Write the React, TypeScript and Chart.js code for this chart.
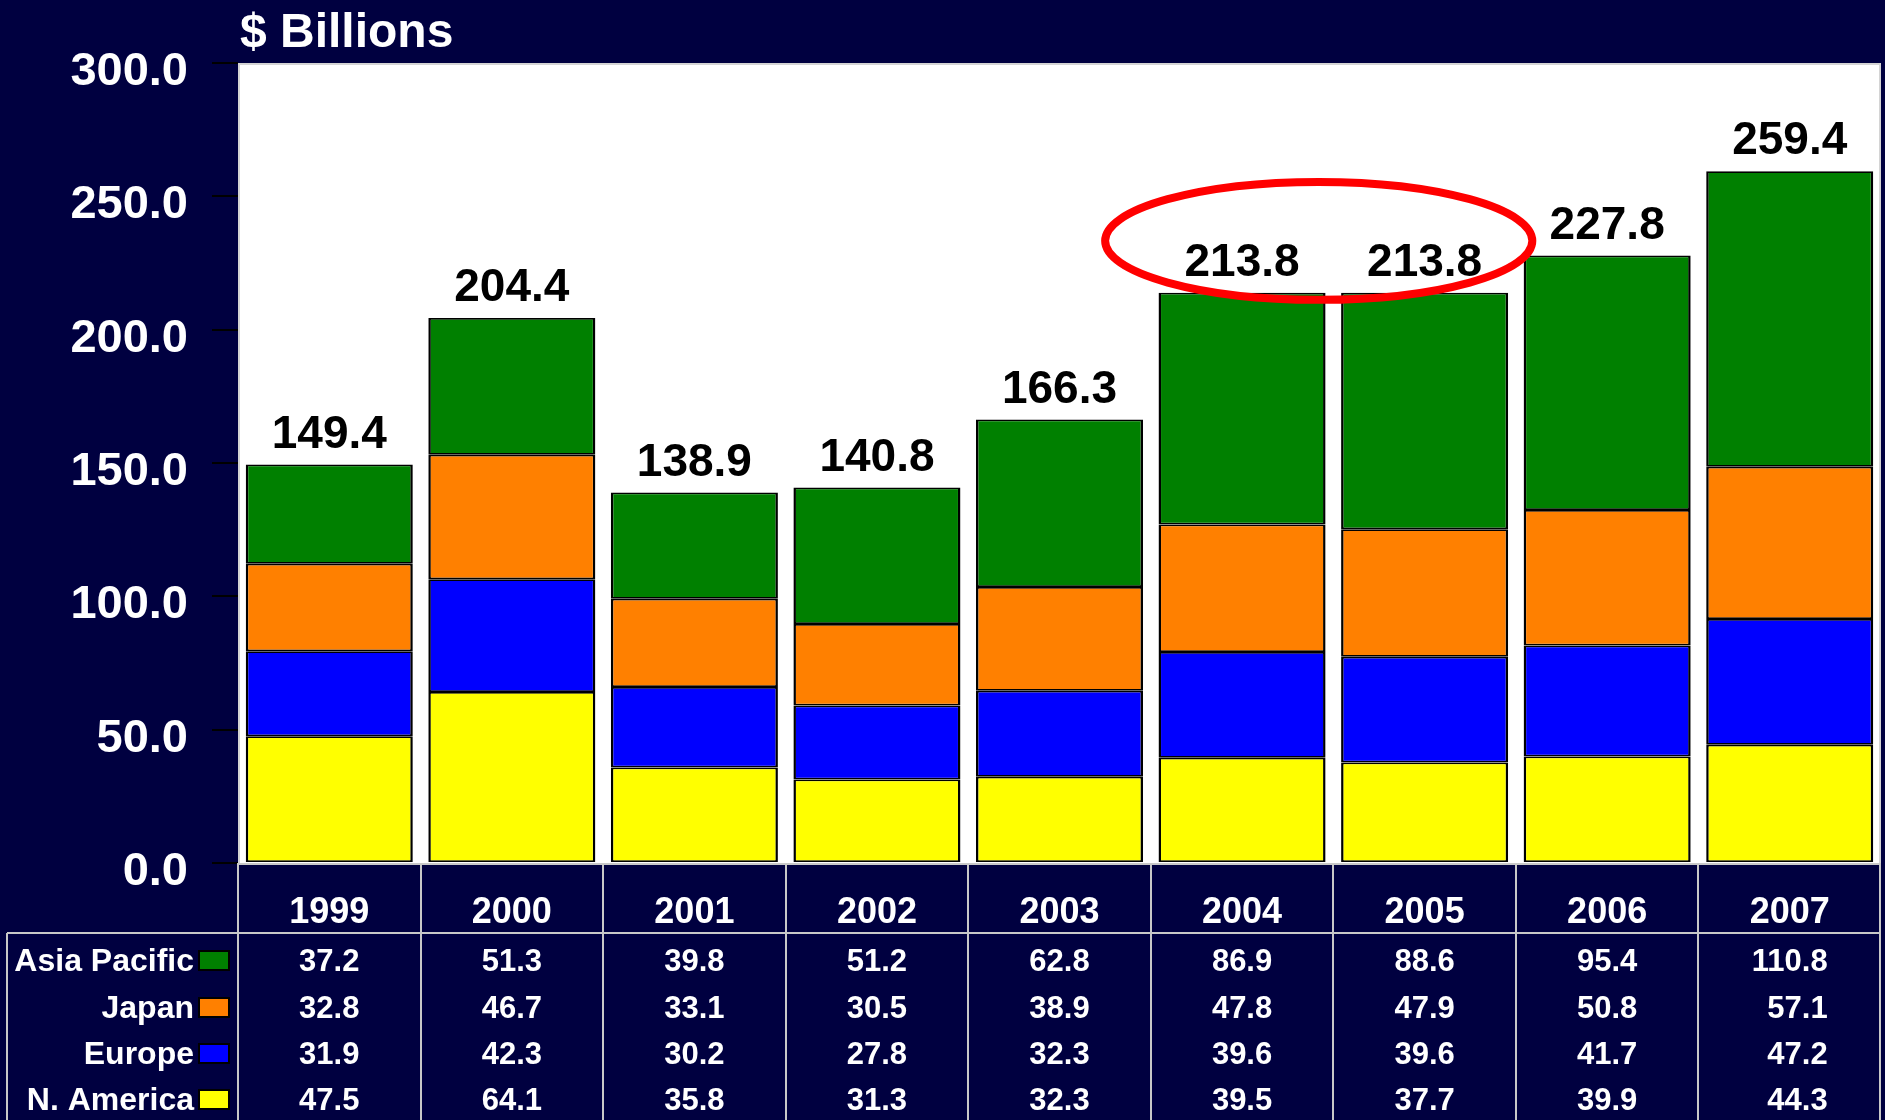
import React, { useEffect, useRef } from "react";
import { Chart, registerables } from "chart.js";

Chart.register(...registerables);

// ---------- data ----------
const years = ["1999", "2000", "2001", "2002", "2003", "2004", "2005", "2006", "2007"];
const asiaPacific = [37.2, 51.3, 39.8, 51.2, 62.8, 86.9, 88.6, 95.4, 110.8];
const japan = [32.8, 46.7, 33.1, 30.5, 38.9, 47.8, 47.9, 50.8, 57.1];
const europe = [31.9, 42.3, 30.2, 27.8, 32.3, 39.6, 39.6, 41.7, 47.2];
const nAmerica = [47.5, 64.1, 35.8, 31.3, 32.3, 39.5, 37.7, 39.9, 44.3];
const totals = [149.4, 204.4, 138.9, 140.8, 166.3, 213.8, 213.8, 227.8, 259.4];
const seriesNames = ["Asia Pacific", "Japan", "Europe", "N. America"];
const yAxisTitle = "$ Billions";

// ---------- styles ----------
const W = 1885;
const H = 1120;
const NAVY = "#000040";
const FONT = "'Liberation Sans', Arial, Helvetica, sans-serif";
const COLORS: Record<string, string> = {
  "Asia Pacific": "#008000",
  Japan: "#FF8000",
  Europe: "#0000FF",
  "N. America": "#FFFF00",
};
const GRID_GRAY = "#C8C8C8";

// highlight ellipse (in scale units)
const HL_CENTER_INDEX = 5.42;
const HL_CENTER_VALUE = 233.3;
const HL_RADIUS_INDEX = 1.17;
const HL_RADIUS_VALUE = 22.1;

const seriesValues: Record<string, number[]> = {
  "Asia Pacific": asiaPacific,
  Japan: japan,
  Europe: europe,
  "N. America": nAmerica,
};

const bgPlugin = {
  id: "bgPlugin",
  beforeDraw(chart: any) {
    const { ctx, chartArea: a } = chart;
    ctx.save();
    ctx.fillStyle = NAVY;
    ctx.fillRect(0, 0, chart.width, chart.height);
    ctx.fillStyle = "#FFFFFF";
    ctx.fillRect(a.left, a.top, a.right - a.left, a.bottom - a.top);
    ctx.strokeStyle = "#D4D4D4";
    ctx.lineWidth = 2;
    ctx.strokeRect(a.left + 1, a.top + 1, a.right - a.left - 2, a.bottom - a.top);
    ctx.fillStyle = "#FFFFFF";
    ctx.font = `bold 48px ${FONT}`;
    ctx.textAlign = "left";
    ctx.textBaseline = "alphabetic";
    ctx.fillText(yAxisTitle, a.left + 2, 47);
    ctx.restore();
  },
};

const ellipsePlugin = {
  id: "ellipsePlugin",
  afterDatasetsDraw(chart: any) {
    const { ctx, scales } = chart;
    const xs = scales.x;
    const ys = scales.y;
    const cx = xs.getPixelForValue(HL_CENTER_INDEX);
    const catW = xs.getPixelForValue(1) - xs.getPixelForValue(0);
    const cy = ys.getPixelForValue(HL_CENTER_VALUE);
    const unit = ys.getPixelForValue(0) - ys.getPixelForValue(1);
    ctx.save();
    ctx.strokeStyle = "#FF0000";
    ctx.lineWidth = 8;
    ctx.beginPath();
    ctx.ellipse(cx, cy, HL_RADIUS_INDEX * catW, HL_RADIUS_VALUE * unit, 0, 0, Math.PI * 2);
    ctx.stroke();
    ctx.restore();
  },
};

const totalsPlugin = {
  id: "totalsPlugin",
  afterDatasetsDraw(chart: any) {
    const { ctx, scales } = chart;
    ctx.save();
    ctx.fillStyle = "#000000";
    ctx.font = `bold 46px ${FONT}`;
    ctx.textAlign = "center";
    ctx.textBaseline = "alphabetic";
    totals.forEach((t, i) => {
      const x = scales.x.getPixelForValue(i);
      const y = scales.y.getPixelForValue(t) - 17;
      ctx.fillText(t.toFixed(1), x, y);
    });
    ctx.restore();
  },
};

const tablePlugin = {
  id: "tablePlugin",
  afterDraw(chart: any) {
    const { ctx, chartArea: a, scales } = chart;
    const xs = scales.x;
    const n = years.length;
    const catW = (a.right - a.left) / n;
    const headerBottom = a.bottom + 70;
    const leftEdge = 7;
    ctx.save();
    ctx.strokeStyle = GRID_GRAY;
    ctx.lineWidth = 2;
    ctx.beginPath();
    for (let i = 0; i <= n; i++) {
      const x = Math.round(a.left + i * catW) + (i === n ? -1 : 0);
      ctx.moveTo(x, a.bottom);
      ctx.lineTo(x, H);
    }
    ctx.moveTo(a.left, a.bottom + 1);
    ctx.lineTo(a.right, a.bottom + 1);
    ctx.moveTo(leftEdge, headerBottom);
    ctx.lineTo(a.right, headerBottom);
    ctx.moveTo(leftEdge, headerBottom);
    ctx.lineTo(leftEdge, H);
    ctx.stroke();

    // year header
    ctx.fillStyle = "#FFFFFF";
    ctx.textBaseline = "middle";
    ctx.textAlign = "center";
    ctx.font = `bold 36px ${FONT}`;
    years.forEach((yr, i) => {
      ctx.fillText(yr, xs.getPixelForValue(i), a.bottom + 50);
    });

    // rows
    const rowCenters = [headerBottom + 28, headerBottom + 75, headerBottom + 121, headerBottom + 167];
    seriesNames.forEach((name, r) => {
      const cy = rowCenters[r];
      ctx.font = `bold 32px ${FONT}`;
      ctx.textAlign = "right";
      ctx.fillStyle = "#FFFFFF";
      ctx.fillText(name, 194, cy + 1);
      // legend box
      ctx.fillStyle = COLORS[name];
      ctx.fillRect(199, cy - 10, 30, 19);
      ctx.strokeStyle = "#000000";
      ctx.lineWidth = 2;
      ctx.strokeRect(199, cy - 10, 30, 19);
    });

    ctx.font = `bold 31px ${FONT}`;
    ctx.fillStyle = "#FFFFFF";
    ctx.textAlign = "right";
    years.forEach((_, i) => {
      const cx = xs.getPixelForValue(i);
      let maxW = 0;
      seriesNames.forEach((name) => {
        maxW = Math.max(maxW, ctx.measureText(seriesValues[name][i].toFixed(1)).width);
      });
      seriesNames.forEach((name, r) => {
        ctx.fillText(seriesValues[name][i].toFixed(1), cx + maxW / 2, rowCenters[r] + 1);
      });
    });
    ctx.restore();
  },
};

export default function App() {
  const canvasRef = useRef<HTMLCanvasElement | null>(null);

  useEffect(() => {
    document.body.style.margin = "0";
    document.body.style.background = NAVY;
    const canvas = canvasRef.current;
    if (!canvas) return;
    const order = ["N. America", "Europe", "Japan", "Asia Pacific"];
    const chart = new Chart(canvas, {
      type: "bar",
      data: {
        labels: years,
        datasets: order.map((name) => ({
          label: name,
          data: seriesValues[name],
          backgroundColor: COLORS[name],
          borderColor: "#000000",
          borderWidth: { left: 2.5, right: 2.5, top: 1.75, bottom: 1.75 },
          borderSkipped: false,
          barPercentage: 0.915,
          categoryPercentage: 1.0,
        })),
      },
      options: {
        responsive: false,
        animation: false,
        devicePixelRatio: 1,
        layout: { padding: { top: 63, right: 4, bottom: 257, left: 0 } },
        plugins: {
          legend: { display: false },
          tooltip: { enabled: false },
        },
        scales: {
          x: {
            stacked: true,
            display: false,
            grid: { display: false },
          },
          y: {
            stacked: true,
            min: 0,
            max: 300,
            afterFit(scale: any) {
              scale.width = 238;
            },
            border: { display: false },
            grid: {
              drawOnChartArea: false,
              drawTicks: true,
              tickLength: 26,
              color: "#000000",
              lineWidth: 2,
            },
            ticks: {
              stepSize: 50,
              color: "#FFFFFF",
              padding: 24,
              labelOffset: 9,
              font: { family: FONT, size: 47, weight: "bold" },
              callback: (v: any) => Number(v).toFixed(1),
            },
          },
        },
      },
      plugins: [bgPlugin, ellipsePlugin, totalsPlugin, tablePlugin],
    } as any);
    return () => chart.destroy();
  }, []);

  return (
    <div style={{ width: W, height: H, background: NAVY }}>
      <canvas ref={canvasRef} width={W} height={H} style={{ display: "block" }} />
    </div>
  );
}
